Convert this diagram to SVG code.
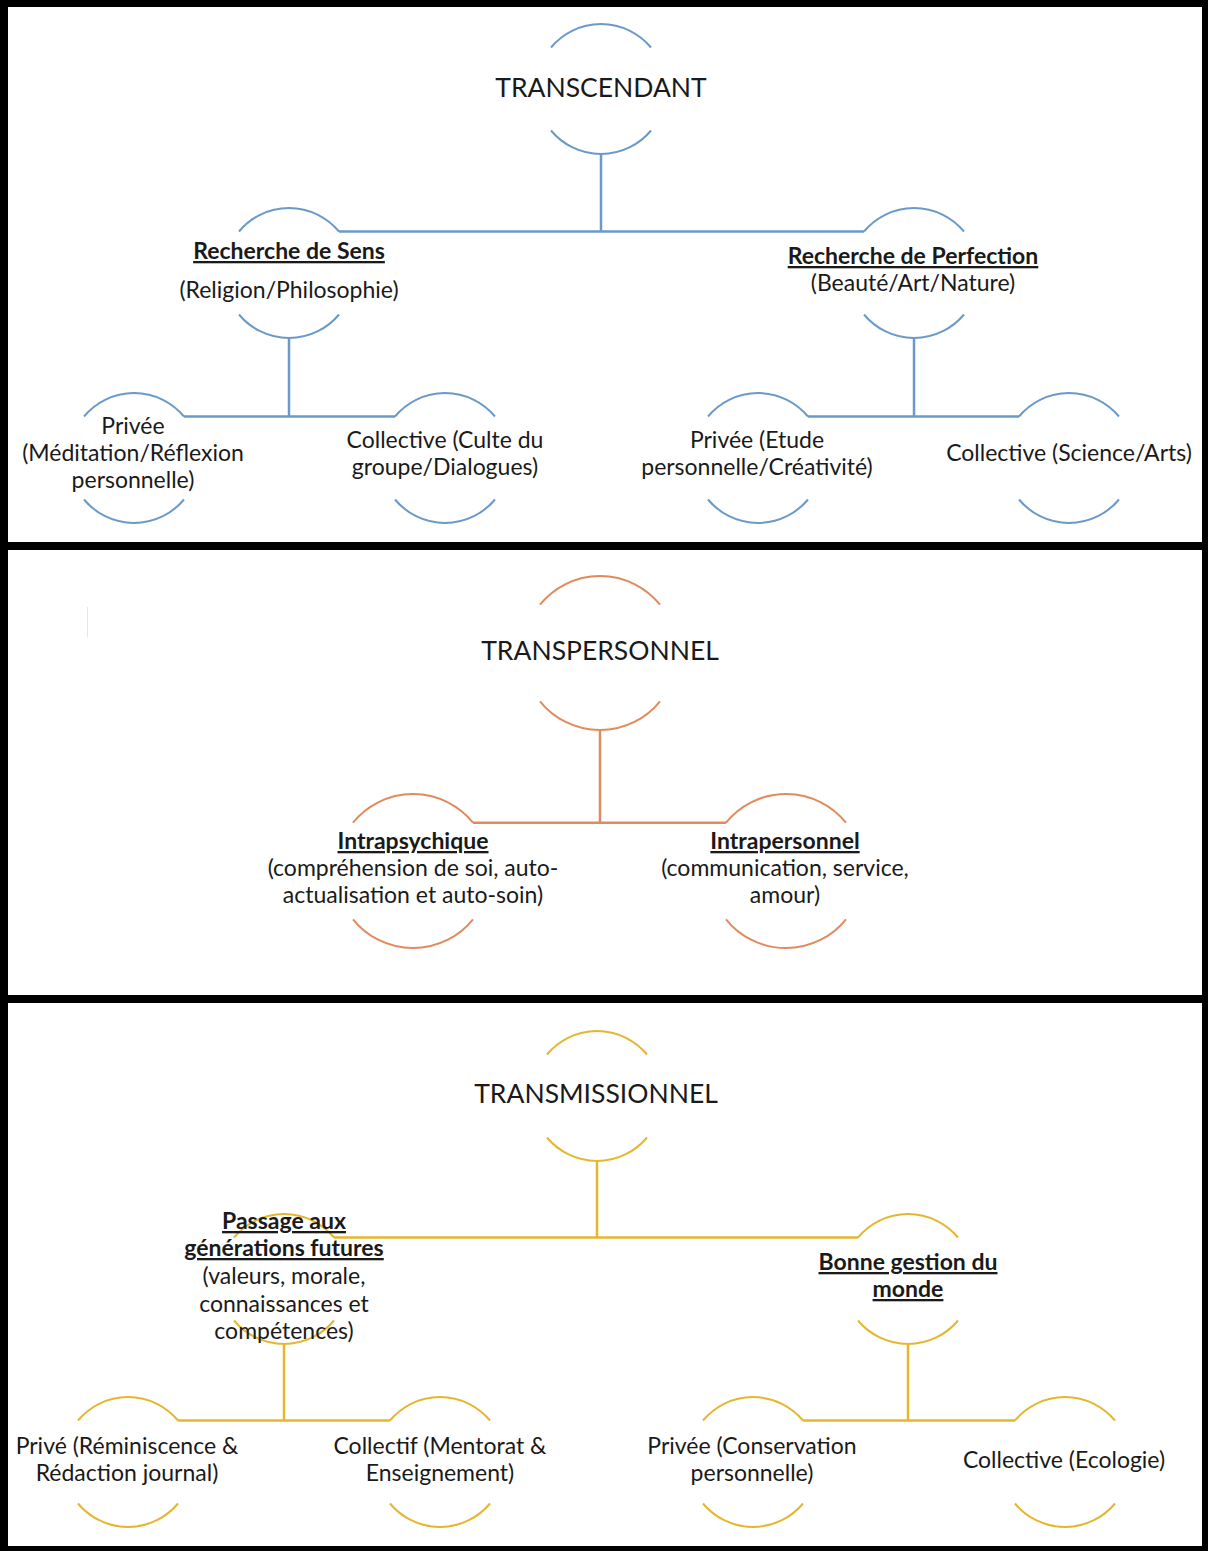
<svg xmlns="http://www.w3.org/2000/svg" width="1208" height="1551" viewBox="0 0 1208 1551">
  <style>
    .arc { fill: none; stroke-width: 2; }
    .ln { fill: none; stroke-width: 2.5; }
    .blue { stroke: #6B9AC9; }
    .orange { stroke: #E08B5C; }
    .gold { stroke: #E5B62F; }
    text { font-family: Lato, "Open Sans", sans-serif; fill: #1a1a1a; text-anchor: middle; }
    .title { font-size: 26.5px; }
    .t { font-size: 23px; }
    .b { font-size: 23px; font-weight: bold; text-decoration: underline; }
  </style>

  <!-- frame: black background with three white panels -->
  <rect x="0" y="0" width="1208" height="1551" fill="#000"/>
  <rect x="8" y="7" width="1194" height="535" fill="#fff"/>
  <rect x="8" y="550" width="1194" height="445" fill="#fff"/>
  <rect x="8" y="1003" width="1194" height="543" fill="#fff"/>
  <line x1="87.5" y1="607" x2="87.5" y2="637" stroke="#e6e6e6" stroke-width="1"/>

  <!-- connectors -->
  <g id="connectors">
    <path class="ln blue" d="M601,154 V231.5 M339,231.5 H864 M289,338 V416.5 M184,416.5 H395 M914,338 V416.5 M808,416.5 H1019"/>
    <path class="ln orange" d="M600,730 V822.7 M473,822.7 H726"/>
    <path class="ln gold" d="M597,1161 V1237.5 M334,1237.5 H858 M284,1344 V1420.5 M178,1420.5 H390 M908,1344 V1420.5 M803,1420.5 H1015"/>
  </g>

  <!-- TRANSCENDANT panel -->
  <g id="transcendant">
    <path class="arc blue" d="M551,47.5 A65,65 0 0 1 651,47.5 M551,130.5 A65,65 0 0 0 651,130.5"/>
    <text class="title" x="601" y="97">TRANSCENDANT</text>
  </g>
  <g id="recherche-sens">
    <path class="arc blue" d="M239,231.5 A65,65 0 0 1 339,231.5 M239,314.5 A65,65 0 0 0 339,314.5"/>
    <text class="b" x="289" y="259">Recherche de Sens</text>
    <text class="t" x="289" y="298">(Religion/Philosophie)</text>
  </g>
  <g id="recherche-perfection">
    <path class="arc blue" d="M864,231.5 A65,65 0 0 1 964,231.5 M864,314.5 A65,65 0 0 0 964,314.5"/>
    <text class="b" x="913" y="264">Recherche de Perfection</text>
    <text class="t" x="913" y="291">(Beauté/Art/Nature)</text>
  </g>
  <g id="privee-meditation">
    <path class="arc blue" d="M84,416.5 A65,65 0 0 1 184,416.5 M84,499.5 A65,65 0 0 0 184,499.5"/>
    <text class="t" x="133" y="434">Privée</text>
    <text class="t" x="133" y="461">(Méditation/Réflexion</text>
    <text class="t" x="133" y="488">personnelle)</text>
  </g>
  <g id="collective-culte">
    <path class="arc blue" d="M395,416.5 A65,65 0 0 1 495,416.5 M395,499.5 A65,65 0 0 0 495,499.5"/>
    <text class="t" x="445" y="448">Collective (Culte du</text>
    <text class="t" x="445" y="475">groupe/Dialogues)</text>
  </g>
  <g id="privee-etude">
    <path class="arc blue" d="M708,416.5 A65,65 0 0 1 808,416.5 M708,499.5 A65,65 0 0 0 808,499.5"/>
    <text class="t" x="757" y="448">Privée (Etude</text>
    <text class="t" x="757" y="475">personnelle/Créativité)</text>
  </g>
  <g id="collective-science">
    <path class="arc blue" d="M1019,416.5 A65,65 0 0 1 1119,416.5 M1019,499.5 A65,65 0 0 0 1119,499.5"/>
    <text class="t" x="1069" y="461">Collective (Science/Arts)</text>
  </g>

  <!-- TRANSPERSONNEL panel -->
  <g id="transpersonnel">
    <path class="arc orange" d="M540,604.7 A77,77 0 0 1 660,604.7 M540,701.3 A77,77 0 0 0 660,701.3"/>
    <text class="title" x="600" y="660">TRANSPERSONNEL</text>
  </g>
  <g id="intrapsychique">
    <path class="arc orange" d="M353,822.7 A77,77 0 0 1 473,822.7 M353,919.3 A77,77 0 0 0 473,919.3"/>
    <text class="b" x="413" y="849">Intrapsychique</text>
    <text class="t" x="413" y="876">(compréhension de soi, auto-</text>
    <text class="t" x="413" y="903">actualisation et auto-soin)</text>
  </g>
  <g id="intrapersonnel">
    <path class="arc orange" d="M726,822.7 A77,77 0 0 1 846,822.7 M726,919.3 A77,77 0 0 0 846,919.3"/>
    <text class="b" x="785" y="849">Intrapersonnel</text>
    <text class="t" x="785" y="876">(communication, service,</text>
    <text class="t" x="785" y="903">amour)</text>
  </g>

  <!-- TRANSMISSIONNEL panel -->
  <g id="transmissionnel">
    <path class="arc gold" d="M547,1054.5 A65,65 0 0 1 647,1054.5 M547,1137.5 A65,65 0 0 0 647,1137.5"/>
    <text class="title" x="596" y="1103">TRANSMISSIONNEL</text>
  </g>
  <g id="passage-generations">
    <path class="arc gold" d="M234,1237.5 A65,65 0 0 1 334,1237.5 M234,1320.5 A65,65 0 0 0 334,1320.5"/>
    <text class="b" x="284" y="1229">Passage aux</text>
    <text class="b" x="284" y="1256">générations futures</text>
    <text class="t" x="284" y="1284">(valeurs, morale,</text>
    <text class="t" x="284" y="1312">connaissances et</text>
    <text class="t" x="284" y="1339">compétences)</text>
  </g>
  <g id="bonne-gestion">
    <path class="arc gold" d="M858,1237.5 A65,65 0 0 1 958,1237.5 M858,1320.5 A65,65 0 0 0 958,1320.5"/>
    <text class="b" x="908" y="1270">Bonne gestion du</text>
    <text class="b" x="908" y="1297">monde</text>
  </g>
  <g id="prive-reminiscence">
    <path class="arc gold" d="M78,1420.5 A65,65 0 0 1 178,1420.5 M78,1503.5 A65,65 0 0 0 178,1503.5"/>
    <text class="t" x="127" y="1454">Privé (Réminiscence &amp;</text>
    <text class="t" x="127" y="1481">Rédaction journal)</text>
  </g>
  <g id="collectif-mentorat">
    <path class="arc gold" d="M390,1420.5 A65,65 0 0 1 490,1420.5 M390,1503.5 A65,65 0 0 0 490,1503.5"/>
    <text class="t" x="440" y="1454">Collectif (Mentorat &amp;</text>
    <text class="t" x="440" y="1481">Enseignement)</text>
  </g>
  <g id="privee-conservation">
    <path class="arc gold" d="M703,1420.5 A65,65 0 0 1 803,1420.5 M703,1503.5 A65,65 0 0 0 803,1503.5"/>
    <text class="t" x="752" y="1454">Privée (Conservation</text>
    <text class="t" x="752" y="1481">personnelle)</text>
  </g>
  <g id="collective-ecologie">
    <path class="arc gold" d="M1015,1420.5 A65,65 0 0 1 1115,1420.5 M1015,1503.5 A65,65 0 0 0 1115,1503.5"/>
    <text class="t" x="1064" y="1468">Collective (Ecologie)</text>
  </g>
</svg>
